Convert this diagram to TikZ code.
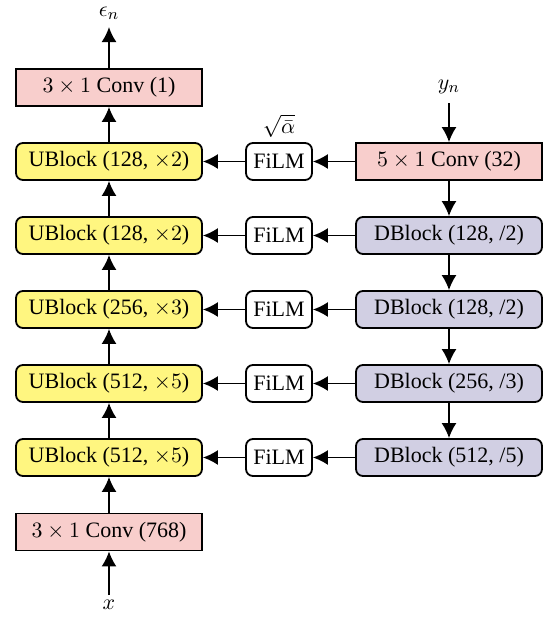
\documentclass[tikz,border=0pt]{standalone}
\usepackage{fontspec}
\setmainfont{Liberation Serif}
\usetikzlibrary{arrows.meta}
\definecolor{convred}{RGB}{248,206,204}
\definecolor{ublockyellow}{RGB}{255,246,128}
\definecolor{dblockpurple}{RGB}{209,207,227}
\begin{document}
\begin{tikzpicture}[x=0.5pt,y=-0.5pt,
  font=\fontsize{11}{13}\selectfont,
  box/.style={draw=black,line width=0.9pt,minimum width=93pt,minimum height=18.5pt,inner sep=0pt},
  convbox/.style={box,fill=convred},
  ubox/.style={box,fill=ublockyellow,rounded corners=3.5pt},
  dbox/.style={box,fill=dblockpurple,rounded corners=3.5pt},
  filmbox/.style={draw=black,line width=0.9pt,fill=white,rounded corners=3.5pt,minimum width=33pt,minimum height=18.5pt,inner sep=0pt},
  arr/.style={line width=0.9pt,-{Latex[length=7.5pt,width=7.5pt]}},
  lbl/.style={inner sep=0pt}]
\useasboundingbox (0,0) rectangle (557,627);
% left column
\node[convbox] (c1) at (109,87.5) {$3\times1$ Conv (1)};
\node[ubox] (u1) at (109,161.5) {UBlock (128, $\times2$)};
\node[ubox] (u2) at (109,235.5) {UBlock (128, $\times2$)};
\node[ubox] (u3) at (109,309.5) {UBlock (256, $\times3$)};
\node[ubox] (u4) at (109,383.5) {UBlock (512, $\times5$)};
\node[ubox] (u5) at (109,457.5) {UBlock (512, $\times5$)};
\node[convbox] (c768) at (109,532) {$3\times1$ Conv (768)};
% film column
\node[filmbox] (f1) at (279,161.5) {FiLM};
\node[filmbox] (f2) at (279,235.5) {FiLM};
\node[filmbox] (f3) at (279,309.5) {FiLM};
\node[filmbox] (f4) at (279,383.5) {FiLM};
\node[filmbox] (f5) at (279,457.5) {FiLM};
% right column
\node[convbox] (c32) at (449,161.5) {$5\times1$ Conv (32)};
\node[dbox] (d1) at (449,235.5) {DBlock (128, /2)};
\node[dbox] (d2) at (449,309.5) {DBlock (128, /2)};
\node[dbox] (d3) at (449,383.5) {DBlock (256, /3)};
\node[dbox] (d4) at (449,457.5) {DBlock (512, /5)};
% labels
\node[lbl] (eps) at (109,13) {$\epsilon_n$};
\coordinate (epsend) at (109,27);
\node[lbl] (yn) at (449,87) {$y_n$};
\coordinate (ynstart) at (449,103);
\node[lbl] (alpha) at (279,126) {$\sqrt{\bar{\alpha}}$};
\node[lbl] (xin) at (109,605) {$x$};
\coordinate (xstart) at (109,595);
% vertical arrows left
\draw[arr] (xstart) -- (c768.south);
\draw[arr] (c768.north) -- (u5.south);
\draw[arr] (u5.north) -- (u4.south);
\draw[arr] (u4.north) -- (u3.south);
\draw[arr] (u3.north) -- (u2.south);
\draw[arr] (u2.north) -- (u1.south);
\draw[arr] (u1.north) -- (c1.south);
\draw[arr] (c1.north) -- (epsend);
% right column
\draw[arr] (ynstart) -- (c32.north);
\draw[arr] (c32.south) -- (d1.north);
\draw[arr] (d1.south) -- (d2.north);
\draw[arr] (d2.south) -- (d3.north);
\draw[arr] (d3.south) -- (d4.north);
% horizontal
\draw[arr] (c32.west) -- (f1.east);
\draw[arr] (d1.west) -- (f2.east);
\draw[arr] (d2.west) -- (f3.east);
\draw[arr] (d3.west) -- (f4.east);
\draw[arr] (d4.west) -- (f5.east);
\draw[arr] (f1.west) -- (u1.east);
\draw[arr] (f2.west) -- (u2.east);
\draw[arr] (f3.west) -- (u3.east);
\draw[arr] (f4.west) -- (u4.east);
\draw[arr] (f5.west) -- (u5.east);
\end{tikzpicture}
\end{document}
